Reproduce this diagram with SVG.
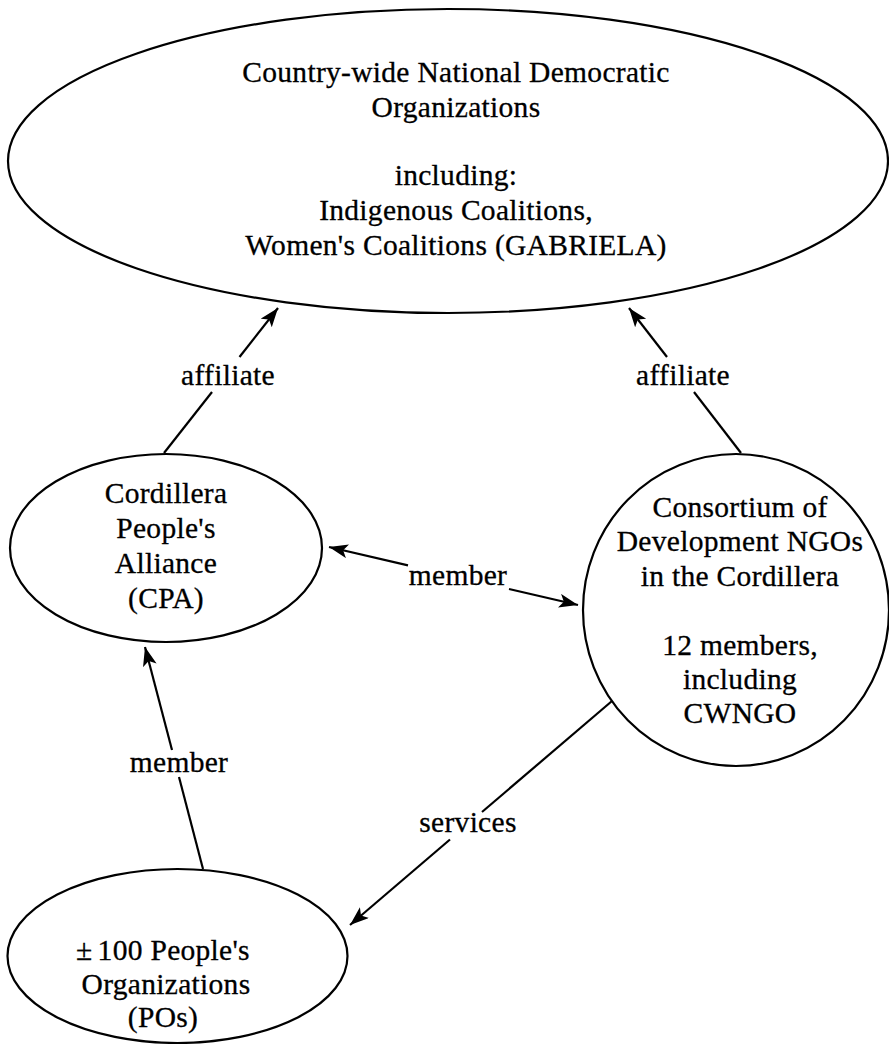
<svg xmlns="http://www.w3.org/2000/svg" width="889" height="1044" viewBox="0 0 889 1044">
<style>
  .node { fill: #ffffff; stroke: #000000; stroke-width: 2.2; }
  .t { font-family: "Liberation Serif", "Times New Roman", serif; font-size: 29.5px; letter-spacing: 0.3px; text-anchor: middle; fill: #000000; stroke: #000000; stroke-width: 0.3; }
  .edge { stroke: #000000; stroke-width: 2.2; fill: none; }
</style>
<defs>
  <marker id="arrow" markerUnits="userSpaceOnUse" markerWidth="22" markerHeight="16" refX="19" refY="7" orient="auto">
    <path d="M0,0 L19,7 L0,14 L4.5,7 z" fill="#000000"/>
  </marker>
</defs>
<rect width="889" height="1044" fill="#ffffff"/>

<g id="node-national">
  <ellipse class="node" cx="448" cy="161" rx="440" ry="152"/>
  <text class="t" x="456" y="82">Country-wide National Democratic</text>
  <text class="t" x="456" y="117">Organizations</text>
  <text class="t" x="456" y="185">including:</text>
  <text class="t" x="456" y="220">Indigenous Coalitions,</text>
  <text class="t" x="456" y="255">Women's Coalitions (GABRIELA)</text>
</g>

<g id="node-cpa">
  <ellipse class="node" cx="166" cy="548" rx="156" ry="94"/>
  <text class="t" x="166" y="503">Cordillera</text>
  <text class="t" x="166" y="538">People's</text>
  <text class="t" x="166" y="573">Alliance</text>
  <text class="t" x="166" y="608">(CPA)</text>
</g>

<g id="node-consortium">
  <ellipse class="node" cx="736" cy="610" rx="153" ry="156"/>
  <text class="t" x="740" y="517">Consortium of</text>
  <text class="t" x="740" y="551">Development NGOs</text>
  <text class="t" x="740" y="586">in the Cordillera</text>
  <text class="t" x="740" y="655">12 members,</text>
  <text class="t" x="740" y="689">including</text>
  <text class="t" x="740" y="723">CWNGO</text>
</g>

<g id="node-pos">
  <ellipse class="node" cx="177.5" cy="956" rx="170" ry="87"/>
  <text class="t" x="163" y="960">±<tspan dx="5">100 People's</tspan></text>
  <text class="t" x="166" y="994">Organizations</text>
  <text class="t" x="163" y="1027">(POs)</text>
</g>

<g id="connectors">
  <line class="edge" x1="164" y1="453" x2="212" y2="392"/>
  <line class="edge" x1="239.5" y1="357" x2="278" y2="308" marker-end="url(#arrow)"/>
  <text class="t" x="228" y="385">affiliate</text>

  <line class="edge" x1="741" y1="453" x2="694" y2="392"/>
  <line class="edge" x1="667" y1="357" x2="629" y2="308" marker-end="url(#arrow)"/>
  <text class="t" x="683" y="385">affiliate</text>

  <line class="edge" x1="408" y1="565.4" x2="329" y2="547" marker-end="url(#arrow)"/>
  <line class="edge" x1="509" y1="589" x2="578" y2="605" marker-end="url(#arrow)"/>
  <text class="t" x="458" y="585">member</text>

  <line class="edge" x1="203" y1="869" x2="179" y2="777"/>
  <line class="edge" x1="172" y1="750" x2="145" y2="647" marker-end="url(#arrow)"/>
  <text class="t" x="179" y="772">member</text>

  <line class="edge" x1="612" y1="701" x2="482" y2="812"/>
  <line class="edge" x1="450" y1="839.5" x2="350" y2="925" marker-end="url(#arrow)"/>
  <text class="t" x="468" y="832">services</text>
</g>
</svg>
